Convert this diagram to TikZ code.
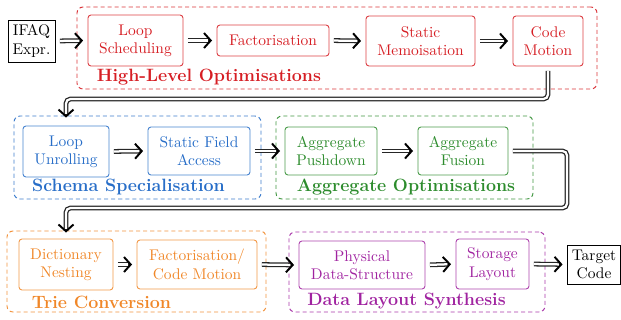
\documentclass[tikz,border=0pt]{standalone}
\usetikzlibrary{arrows.meta,calc}
\definecolor{cred}{RGB}{214,30,36}
\definecolor{cblue}{RGB}{40,110,200}
\definecolor{cgreen}{RGB}{45,140,45}
\definecolor{corange}{RGB}{240,135,40}
\definecolor{cpurple}{RGB}{160,35,160}
\begin{document}
\begin{tikzpicture}[x=0.6667pt,y=-0.6667pt,
  font=\fontsize{10.3}{12.2}\selectfont,
  box/.style={draw=#1!85, text=#1, rounded corners=2pt, line width=0.6pt, align=center, inner sep=0pt},
  plainbox/.style={draw=black, align=center, inner sep=0pt, line width=0.6pt},
  grp/.style={draw=#1!90, dash pattern=on 2.7pt off 2pt, rounded corners=4pt, line width=0.65pt, inner sep=0pt},
  glabel/.style={text=#1, font=\fontsize{11.9}{14}\selectfont\bfseries, inner sep=0pt},
  conn/.style={draw=black!85, line width=3.2pt,
     -{Straight Barb[length=4.5pt, width=10pt, line width=1.3pt, black]},
     shorten <=3pt, shorten >=3pt, rounded corners=3pt,
     postaction={draw=white, line width=1.5pt, -, shorten >=#1}},
  conn/.default=5.5pt]
\useasboundingbox (0,0) rectangle (621,320);

% row 1
\node[grp=cred, minimum width=520*0.6667pt, minimum height=82*0.6667pt] (g1) at (337,48) {};
\node[plainbox, minimum width=47*0.6667pt, minimum height=42*0.6667pt] (in) at (31.5,41) {IFAQ\\Expr.};
\node[box=cred, minimum width=95*0.6667pt, minimum height=51*0.6667pt] (ls) at (135.5,40.5) {Loop\\Scheduling};
\node[box=cred, minimum width=112*0.6667pt, minimum height=31*0.6667pt] (fa) at (273,40.5) {Factorisation};
\node[box=cred, minimum width=109*0.6667pt, minimum height=50*0.6667pt] (sm) at (420.5,41) {Static\\Memoisation};
\node[box=cred, minimum width=70*0.6667pt, minimum height=50*0.6667pt] (cm) at (548,41) {Code\\Motion};
\node[glabel=cred] (l1) at (209,77) {High-Level Optimisations};

% row 2
\node[grp=cblue, minimum width=247*0.6667pt, minimum height=83*0.6667pt] (g2) at (137.5,157.5) {};
\node[box=cblue, minimum width=86*0.6667pt, minimum height=51*0.6667pt] (lu) at (66,151.5) {Loop\\Unrolling};
\node[box=cblue, minimum width=102*0.6667pt, minimum height=48*0.6667pt] (sf) at (199,151) {Static Field\\Access};
\node[glabel=cblue] (l2) at (128.5,187) {Schema Specialisation};
\node[grp=cgreen, minimum width=257*0.6667pt, minimum height=83*0.6667pt] (g3) at (404.5,157.5) {};
\node[box=cgreen, minimum width=92*0.6667pt, minimum height=48*0.6667pt] (ap) at (331,151) {Aggregate\\Pushdown};
\node[box=cgreen, minimum width=90*0.6667pt, minimum height=48*0.6667pt] (af) at (463,151) {Aggregate\\Fusion};
\node[glabel=cgreen] (l3) at (406,187) {Aggregate Optimisations};

% row 3
\node[grp=corange, minimum width=259*0.6667pt, minimum height=81*0.6667pt] (g4) at (136.5,271.5) {};
\node[box=corange, minimum width=94*0.6667pt, minimum height=51*0.6667pt] (dn) at (66,264.5) {Dictionary\\Nesting};
\node[box=corange, minimum width=120*0.6667pt, minimum height=49*0.6667pt] (fc) at (197,264.5) {Factorisation/\\Code Motion};
\node[glabel=corange] (l4) at (101.5,302) {Trie Conversion};
\node[grp=cpurple, minimum width=256*0.6667pt, minimum height=80*0.6667pt] (g5) at (417,272) {};
\node[box=cpurple, minimum width=126*0.6667pt, minimum height=48*0.6667pt] (pd) at (362,265) {Physical\\Data-Structure};
\node[box=cpurple, minimum width=73*0.6667pt, minimum height=50*0.6667pt] (sl) at (492.5,264) {Storage\\Layout};
\node[glabel=cpurple] (l5) at (406.5,301) {Data Layout Synthesis};
\node[plainbox, minimum width=53*0.6667pt, minimum height=39*0.6667pt] (out) at (594,264.5) {Target\\Code};

% connectors
\draw[conn] (in.east) -- (ls.west);
\draw[conn] (ls.east) -- (fa.west);
\draw[conn] (fa.east) -- (sm.west);
\draw[conn] (sm.east) -- (cm.west);
\coordinate (k1) at (548,99);
\draw[conn=7.8pt, shorten >=5.3pt] (cm.south) -- (k1) -| (lu.north);
\draw[conn] (lu.east) -- (sf.west);
\draw[conn] (sf.east) -- (ap.west);
\draw[conn] (ap.east) -- (af.west);
\coordinate (k2) at (567,151);
\coordinate (k3) at (567,208);
\draw[conn=6.5pt, shorten >=4pt] (af.east) -- (k2) -- (k3) -| (dn.north);
\draw[conn] (dn.east) -- (fc.west);
\draw[conn] (fc.east) -- (pd.west);
\draw[conn] (pd.east) -- (sl.west);
\draw[conn] (sl.east) -- (out.west);
\end{tikzpicture}
\end{document}
